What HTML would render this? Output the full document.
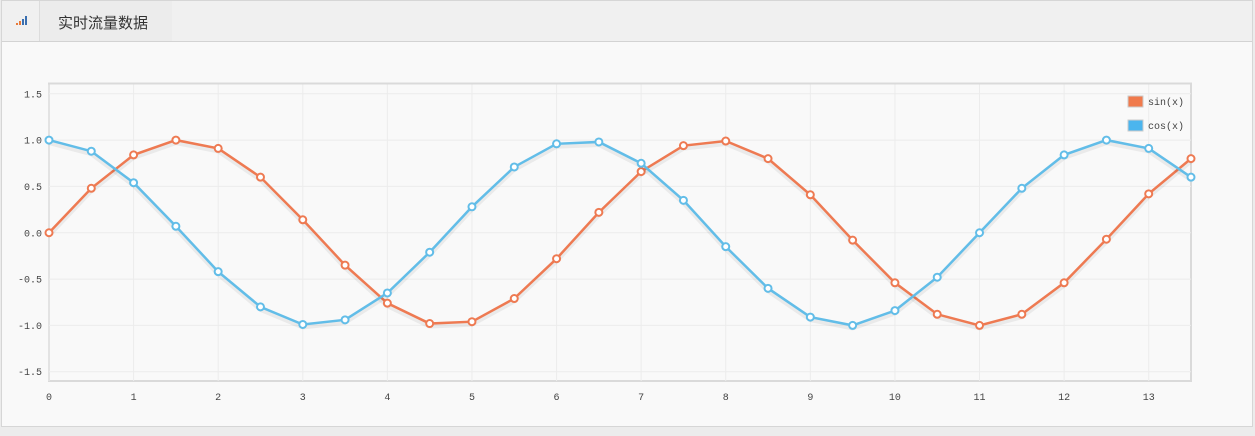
<!DOCTYPE html>
<html><head><meta charset="utf-8"><style>
body{margin:0;width:1255px;height:436px;background:#ececec;font-family:"Liberation Sans","Noto Sans CJK SC",sans-serif;overflow:hidden}
#panel{position:absolute;left:1px;top:0;width:1252px;height:427px;background:#f9f9f9;border:1px solid #d6d6d6;box-sizing:border-box}
#hdr{position:absolute;left:0;top:0;width:100%;height:41px;background:#f0f0f0;border-bottom:1px solid #d3d3d3;box-sizing:border-box}
#icon{position:absolute;left:0;top:0;width:37px;height:40px;border-right:1px solid #dcdcdc}
#title{position:absolute;left:56px;top:11px;font-size:15px;color:#333}
#tab{position:absolute;left:38px;top:0;width:132px;height:40px;background:#ececec}
svg{position:absolute;left:0;top:0}
text{font-family:"Liberation Mono","DejaVu Sans Mono",monospace;font-size:10px;fill:#444}
</style></head><body>
<div id="panel">
<div id="hdr">
<div id="tab"></div>
<div id="icon">
<svg width="37" height="40" style="position:absolute;left:0;top:0"><rect x="14" y="22" width="2" height="2" fill="#e87a3a"/><rect x="17" y="20" width="2" height="4" fill="#e87a3a"/><rect x="20" y="18" width="2" height="6" fill="#3a6fb0"/><rect x="23" y="15" width="2" height="9" fill="#3a6fb0"/></svg></div>
<div id="title">实时流量数据</div>
</div>
</div>
<svg id="chart" width="1255" height="436"></svg>
<script>
const xs=[0,0.5,1,1.5,2,2.5,3,3.5,4,4.5,5,5.5,6,6.5,7,7.5,8,8.5,9,9.5,10,10.5,11,11.5,12,12.5,13,13.5];
const sinVals=[0,0.48,0.84,1.0,0.91,0.6,0.14,-0.35,-0.76,-0.98,-0.96,-0.71,-0.28,0.22,0.66,0.94,0.99,0.8,0.41,-0.08,-0.54,-0.88,-1.0,-0.88,-0.54,-0.07,0.42,0.8];
const cosVals=[1.0,0.88,0.54,0.07,-0.42,-0.8,-0.99,-0.94,-0.65,-0.21,0.28,0.71,0.96,0.98,0.75,0.35,-0.15,-0.6,-0.91,-1.0,-0.84,-0.48,0.0,0.48,0.84,1.0,0.91,0.6];
const yTicks=[-1.5,-1.0,-0.5,0.0,0.5,1.0,1.5];
const xTicks=[0,1,2,3,4,5,6,7,8,9,10,11,12,13];
const L=49,R=1191,T=84.5,B=381;
const X=v=>L+(v-0)/(13.5)*(R-L);
const Y=v=>B-(v+1.6)/3.2*(B-T);
const svg=document.getElementById('chart');const NS='http://www.w3.org/2000/svg';
function mk(t,a){const e=document.createElementNS(NS,t);for(const k in a)e.setAttribute(k,a[k]);svg.appendChild(e);return e;}
let bg=mk('rect',{x:L,y:T-1,width:R-L,height:B-T+1,fill:'#f9f9f9',stroke:'#dadada','stroke-width':2});


yTicks.forEach(v=>{let g=mk('line',{x1:L,x2:R,y1:Y(v),y2:Y(v),stroke:'#ececec'});


let t=mk('text',{x:L-7,y:Y(v)+3.5,'text-anchor':'end'});t.textContent=v.toFixed(1);

});
xTicks.forEach(v=>{let g=mk('line',{x1:X(v),x2:X(v),y1:T,y2:B,stroke:'#ececec'});


let t=mk('text',{x:X(v),y:B+19,'text-anchor':'middle'});t.textContent=v;

});
function series(vals,col,name){
 const pts=xs.map((x,i)=>X(x)+','+Y(vals[i])).join(' ');
 const sh=xs.map((x,i)=>X(x)+','+(Y(vals[i])+3)).join(' ');
 let s=mk('polyline',{points:sh,fill:'none',stroke:'rgba(0,0,0,0.06)','stroke-width':4});
 
 
 let p=mk('polyline',{points:pts,fill:'none',stroke:col,'stroke-width':2.5});
 
 
 xs.forEach((x,i)=>{let c=mk('circle',{cx:X(x),cy:Y(vals[i]),r:3.5,fill:'#fff',stroke:col,'stroke-width':2});
 
 });
}
series(sinVals,'#ee7a52','sin');
series(cosVals,'#62bde8','cos');
[['sin(x)','#f07a4c',101],['cos(x)','#4bb5ee',125]].forEach(([n,c,y])=>{
 let r=mk('rect',{x:1128,y:y-5,width:15,height:11,fill:c,stroke:'#ccc'});
 
 
 let t=mk('text',{x:1148,y:y+4});t.textContent=n;
 
 
});
</script>
</body></html>
